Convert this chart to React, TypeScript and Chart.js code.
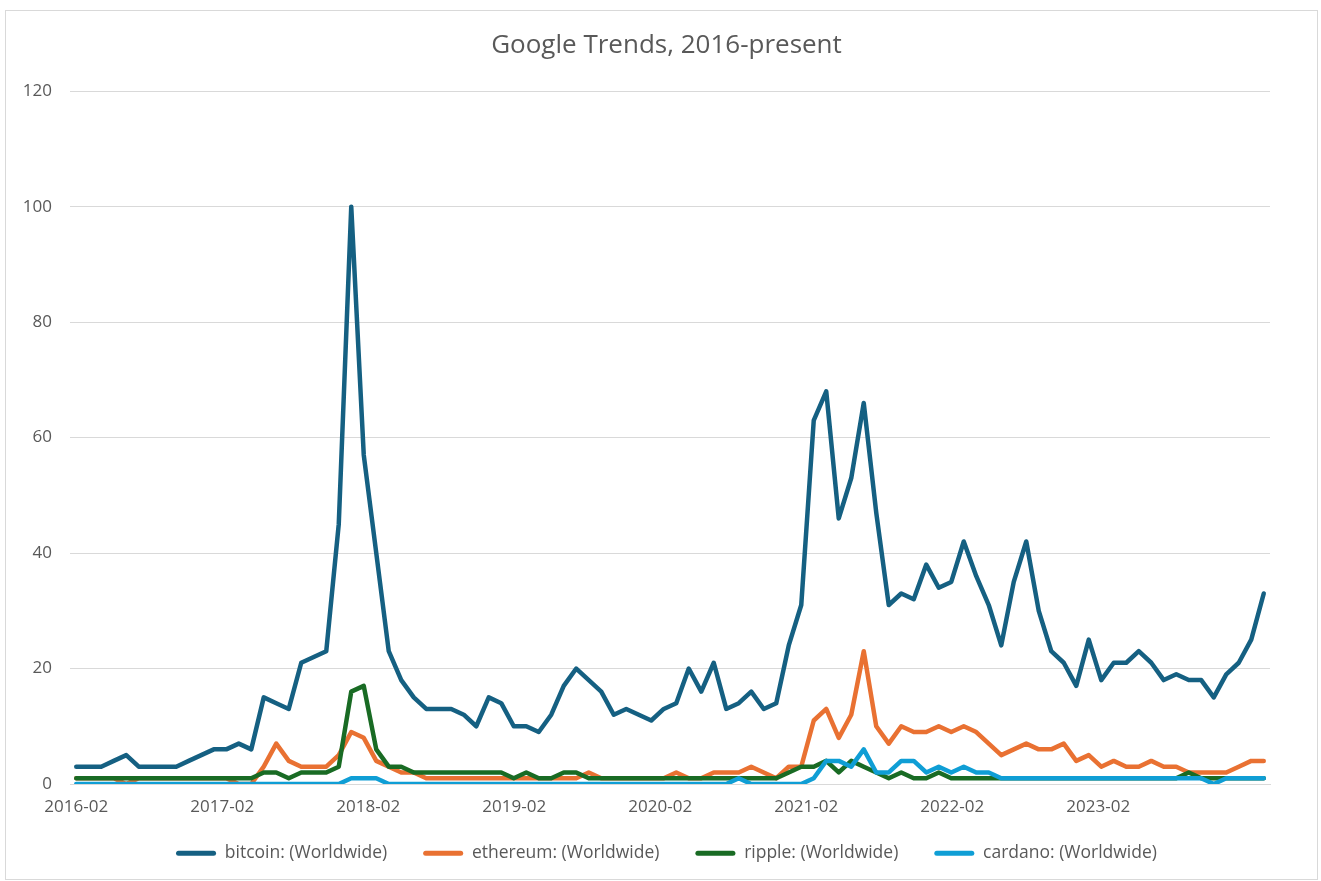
import React, { useEffect, useRef } from "react";
import { Chart, registerables } from "chart.js";

Chart.register(...registerables);

// Monthly categories, 2016-02 .. 2024-01
const months: string[] = [
  "2016-02","2016-03","2016-04","2016-05","2016-06","2016-07","2016-08","2016-09","2016-10","2016-11","2016-12",
  "2017-01","2017-02","2017-03","2017-04","2017-05","2017-06","2017-07","2017-08","2017-09","2017-10","2017-11","2017-12",
  "2018-01","2018-02","2018-03","2018-04","2018-05","2018-06","2018-07","2018-08","2018-09","2018-10","2018-11","2018-12",
  "2019-01","2019-02","2019-03","2019-04","2019-05","2019-06","2019-07","2019-08","2019-09","2019-10","2019-11","2019-12",
  "2020-01","2020-02","2020-03","2020-04","2020-05","2020-06","2020-07","2020-08","2020-09","2020-10","2020-11","2020-12",
  "2021-01","2021-02","2021-03","2021-04","2021-05","2021-06","2021-07","2021-08","2021-09","2021-10","2021-11","2021-12",
  "2022-01","2022-02","2022-03","2022-04","2022-05","2022-06","2022-07","2022-08","2022-09","2022-10","2022-11","2022-12",
  "2023-01","2023-02","2023-03","2023-04","2023-05","2023-06","2023-07","2023-08","2023-09","2023-10","2023-11","2023-12",
  "2024-01",
];

const bitcoin = [
  3, 3, 3, 4, 5, 3, 3, 3, 3, 4,
  5, 6, 6, 7, 6, 15, 14, 13, 21, 22,
  23, 45, 100, 57, 40, 23, 18, 15, 13, 13,
  13, 12, 10, 15, 14, 10, 10, 9, 12, 17,
  20, 18, 16, 12, 13, 12, 11, 13, 14, 20,
  16, 21, 13, 14, 16, 13, 14, 24, 31, 63,
  68, 46, 53, 66, 47, 31, 33, 32, 38, 34,
  35, 42, 36, 31, 24, 35, 42, 30, 23, 21,
  17, 25, 18, 21, 21, 23, 21, 18, 19, 18,
  18, 15, 19, 21, 25, 33,
];

const ethereum = [
  1, 1, 1, 1, 0, 1, 1, 1, 1, 1,
  1, 1, 1, 0, 0, 3, 7, 4, 3, 3,
  3, 5, 9, 8, 4, 3, 2, 2, 1, 1,
  1, 1, 1, 1, 1, 1, 1, 1, 1, 1,
  1, 2, 1, 1, 1, 1, 1, 1, 2, 1,
  1, 2, 2, 2, 3, 2, 1, 3, 3, 11,
  13, 8, 12, 23, 10, 7, 10, 9, 9, 10,
  9, 10, 9, 7, 5, 6, 7, 6, 6, 7,
  4, 5, 3, 4, 3, 3, 4, 3, 3, 2,
  2, 2, 2, 3, 4, 4,
];

const ripple = [
  1, 1, 1, 1, 1, 1, 1, 1, 1, 1,
  1, 1, 1, 1, 1, 2, 2, 1, 2, 2,
  2, 3, 16, 17, 6, 3, 3, 2, 2, 2,
  2, 2, 2, 2, 2, 1, 2, 1, 1, 2,
  2, 1, 1, 1, 1, 1, 1, 1, 1, 1,
  1, 1, 1, 1, 1, 1, 1, 2, 3, 3,
  4, 2, 4, 3, 2, 1, 2, 1, 1, 2,
  1, 1, 1, 1, 1, 1, 1, 1, 1, 1,
  1, 1, 1, 1, 1, 1, 1, 1, 1, 2,
  1, 1, 1, 1, 1, 1,
];

const cardano = [
  0, 0, 0, 0, 0, 0, 0, 0, 0, 0,
  0, 0, 0, 0, 0, 0, 0, 0, 0, 0,
  0, 0, 1, 1, 1, 0, 0, 0, 0, 0,
  0, 0, 0, 0, 0, 0, 0, 0, 0, 0,
  0, 0, 0, 0, 0, 0, 0, 0, 0, 0,
  0, 0, 0, 1, 0, 0, 0, 0, 0, 1,
  4, 4, 3, 6, 2, 2, 4, 4, 2, 3,
  2, 3, 2, 2, 1, 1, 1, 1, 1, 1,
  1, 1, 1, 1, 1, 1, 1, 1, 1, 1,
  1, 0, 1, 1, 1, 1,
];

const seriesNames = [
  "bitcoin: (Worldwide)",
  "ethereum: (Worldwide)",
  "ripple: (Worldwide)",
  "cardano: (Worldwide)",
];
const seriesColors = ["#156082", "#E97132", "#196B24", "#0F9ED5"];

const xTickLabels = ["2016-02", "2017-02", "2018-02", "2019-02", "2020-02", "2021-02", "2022-02", "2023-02"];
const xTickStep = 11.68; // label spacing, in data points
const yTicks = [0, 20, 40, 60, 80, 100, 120];

const FONT = "'Open Sans', 'Liberation Sans', sans-serif";
const TEXT = "#595959";
const GRID = "#d9d9d9";

// keep x tick labels from being clipped to the (short) x-axis box
const unclipX = {
  id: "unclipX",
  afterLayout(chart: any) {
    const x = chart.scales.x;
    if (x) x.bottom = chart.height;
  },
};

export default function App() {
  const canvasRef = useRef<HTMLCanvasElement | null>(null);

  useEffect(() => {
    const canvas = canvasRef.current;
    if (!canvas) return;
    const all = [bitcoin, ethereum, ripple, cardano];
    const datasets = all.map((vals, k) => ({
      label: seriesNames[k],
      data: months.map((m, i) => ({ x: i, y: vals[i] })),
      borderColor: seriesColors[k],
      backgroundColor: seriesColors[k],
      borderWidth: 4.5,
      pointRadius: 0,
      pointHoverRadius: 0,
      tension: 0,
      borderJoinStyle: "round" as const,
      borderCapStyle: "round" as const,
      order: all.length - k,
      yAxisID: "y",
    }));

    const chart = new Chart(canvas, {
      type: "line",
      data: { datasets },
      plugins: [unclipX],
      options: {
        responsive: false,
        animation: false,
        events: [],
        layout: { padding: { left: 12, right: 0, top: 0, bottom: 9 } },
        scales: {
          x: {
            type: "linear",
            min: -0.5,
            max: months.length - 0.5,
            grid: { display: false, drawTicks: false },
            border: { display: true, color: GRID, width: 1 },
            afterBuildTicks: (scale: any) => {
              scale.ticks = xTickLabels.map((_, k) => ({ value: k * xTickStep }));
            },
            afterFit: (scale: any) => {
              scale.height = 24.5;
            },
            ticks: {
              autoSkip: false,
              maxRotation: 0,
              padding: 13,
              color: TEXT,
              font: { family: FONT, size: 17 },
              callback: (_v: any, i: number) => xTickLabels[i],
            },
          },
          y: {
            type: "linear",
            position: "left",
            min: 0,
            max: 120,
            afterBuildTicks: (scale: any) => {
              scale.ticks = yTicks.map((v) => ({ value: v }));
            },
            afterFit: (scale: any) => {
              scale.width = 58;
            },
            grid: { color: GRID, lineWidth: 1, drawTicks: false },
            border: { display: false },
            ticks: {
              padding: 18,
              color: TEXT,
              font: { family: FONT, size: 17 },
            },
          },
          yRight: {
            type: "linear",
            position: "right",
            display: true,
            grid: { display: false, drawTicks: false },
            border: { display: false },
            ticks: { display: false },
            afterFit: (scale: any) => {
              scale.width = 51;
            },
          },
        },
        plugins: {
          title: {
            display: true,
            text: "Google Trends, 2016-present",
            color: TEXT,
            font: { family: FONT, size: 26, weight: "normal" },
            padding: { top: 30, bottom: 30 },
          },
          legend: {
            display: true,
            position: "bottom",
            labels: {
              color: TEXT,
              font: { family: FONT, size: 17.5 },
              boxWidth: 40,
              boxHeight: 5,
              padding: 36,
              useBorderRadius: true,
              borderRadius: 2.5,
              sort: (a: any, b: any) => a.datasetIndex - b.datasetIndex,
              generateLabels: (ch: any) =>
                Chart.defaults.plugins.legend.labels
                  .generateLabels(ch)
                  .map((l: any) => ({ ...l, lineWidth: 0, fillStyle: seriesColors[l.datasetIndex] })),
            },
          },
          tooltip: { enabled: false },
        },
      },
    });
    return () => chart.destroy();
  }, []);

  return (
    <div style={{ position: "fixed", left: 0, top: 0, width: 1321, height: 881, background: "#fff" }}>
      <div
        style={{
          position: "absolute",
          left: 5,
          top: 10,
          width: 1311,
          height: 868,
          border: "1px solid #d9d9d9",
        }}
      />
      <canvas ref={canvasRef} width={1321} height={881} style={{ position: "absolute", left: 0, top: 0 }} />
    </div>
  );
}
